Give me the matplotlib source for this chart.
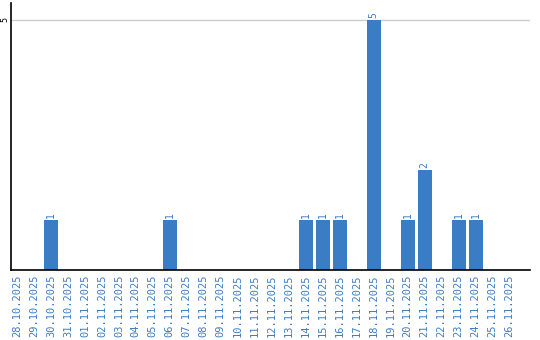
import matplotlib
matplotlib.use("Agg")
import matplotlib.pyplot as plt

dates = ["28.10.2025", "29.10.2025", "30.10.2025", "31.10.2025", "01.11.2025",
         "02.11.2025", "03.11.2025", "04.11.2025", "05.11.2025", "06.11.2025",
         "07.11.2025", "08.11.2025", "09.11.2025", "10.11.2025", "11.11.2025",
         "12.11.2025", "13.11.2025", "14.11.2025", "15.11.2025", "16.11.2025",
         "17.11.2025", "18.11.2025", "19.11.2025", "20.11.2025", "21.11.2025",
         "22.11.2025", "23.11.2025", "24.11.2025", "25.11.2025", "26.11.2025"]
counts = [0, 0, 1, 0, 0, 0, 0, 0, 0, 1, 0, 0, 0, 0, 0, 0, 0, 1, 1, 1,
          0, 5, 0, 1, 2, 0, 1, 1, 0, 0]

blue = "#3b7dc4"

fig = plt.figure(figsize=(5.4, 3.4), dpi=100)
ax = fig.add_axes([11 / 540, 70 / 340, 519 / 540, 267 / 340])

x = range(len(dates))
ax.bar(x, counts, width=0.82, color=blue, zorder=2)
for i, v in enumerate(counts):
    if v > 0:
        ax.text(i, v + 0.05, str(v), rotation=90, ha="center", va="bottom",
                color=blue, fontsize=7, family="DejaVu Sans Mono")

ax.set_xlim(-0.35, 30.2)
ax.set_ylim(0, 5.34)
ax.axhline(5, color="#cccccc", lw=1, zorder=1)

ax.set_xticks(list(x))
ax.set_xticklabels(dates, rotation=90, color=blue, fontsize=7.5,
                   family="DejaVu Sans Mono")
ax.set_yticks([5])
ax.set_yticklabels(["5"], rotation=90, fontsize=6, family="DejaVu Sans Mono",
                   va="center")
ax.tick_params(axis="both", length=0, pad=3)
ax.tick_params(axis="y", pad=1)

for s in ["top", "right"]:
    ax.spines[s].set_visible(False)
ax.spines["left"].set_linewidth(1.2)
ax.spines["bottom"].set_linewidth(1.2)

fig.savefig("out.png", dpi=100)
